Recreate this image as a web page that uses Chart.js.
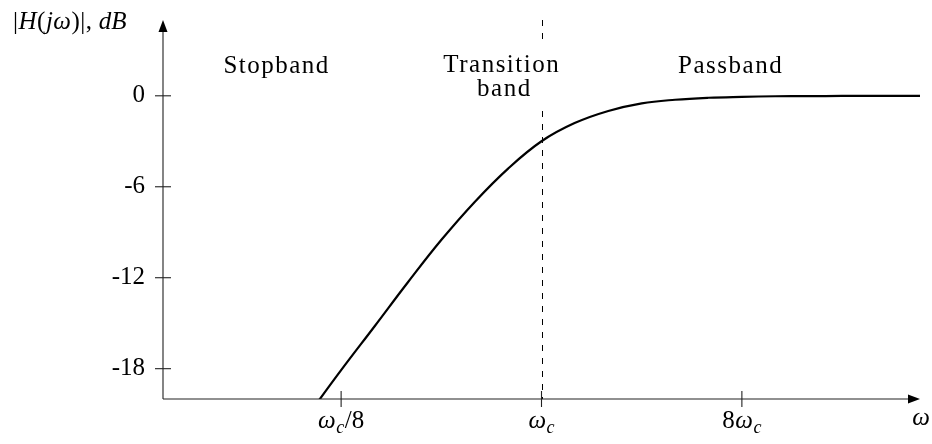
<!DOCTYPE html>
<html>
<head>
<meta charset="utf-8">
<script src="https://cdn.jsdelivr.net/npm/chart.js@4"></script>
<style>
  html, body { margin: 0; padding: 0; background: #fff; }
  #wrap { width: 932px; height: 444px; }
</style>
</head>
<body>
<div id="wrap"><canvas id="chart" width="932" height="444"></canvas></div>
<script>
// Magnitude response of the filter: frequency as w / wc, gain in dB
const freqRatio = [0.0884, 0.125, 0.177, 0.25, 0.354, 0.5, 0.707, 1, 1.41, 2, 2.83, 4, 5.66, 8, 11.3, 16, 22.6, 32, 50.8];
const gainDb = [-21.1, -18.1, -15.2, -12.3, -9.5, -7.0, -4.8, -3.0, -1.8, -1.0, -0.5, -0.26, -0.13, -0.07, -0.03, -0.02, -0.01, 0, 0];

// Cut-off frequency (dashed marker)
const cutoffRatio = 1;

// Tick values and labels
const yTickValues = [0, -6, -12, -18];
const yTickLabels = ["0", "-6", "-12", "-18"];
const xTickValues = [0.125, 1, 8];
const xTickLabels = [
  [{ t: "ω", i: true }, { t: "c", i: true, sub: true }, { t: "/8" }],
  [{ t: "ω", i: true }, { t: "c", i: true, sub: true }],
  [{ t: "8" }, { t: "ω", i: true }, { t: "c", i: true, sub: true }],
];
const yAxisTitle = [
  { t: "|" }, { t: "H", i: true }, { t: "(" }, { t: "j", i: true }, { t: "ω", i: true },
  { t: ")" }, { t: "|" }, { t: ", " }, { t: "dB", i: true },
];
const xAxisTitle = [{ t: "ω", i: true }];
const bandNames = [["Stopband"], ["Transition", "band"], ["Passband"]];

const FONT = '"Liberation Serif", "Times New Roman", serif';
const SIZE = 25;

function partFont(p) {
  return (p.i ? "italic " : "") + (p.sub ? 18 : SIZE) + "px " + FONT;
}

// draws a run of upright / italic / subscript pieces
function drawMath(ctx, parts, x, y, align) {
  const gap = 0.5;
  const widths = parts.map((p) => {
    ctx.font = partFont(p);
    return ctx.measureText(p.t).width;
  });
  const total = widths.reduce((a, b) => a + b, 0) + gap * (parts.length - 1);
  let cx = x;
  if (align === "center") cx = x - total / 2;
  if (align === "right") cx = x - total;
  ctx.textAlign = "left";
  ctx.textBaseline = "alphabetic";
  parts.forEach((p, k) => {
    ctx.font = partFont(p);
    ctx.fillText(p.t, cx, p.sub ? y + 5 : y);
    cx += widths[k] + gap;
  });
}

function drawWord(ctx, text, x, y) {
  ctx.save();
  ctx.font = SIZE + "px " + FONT;
  ctx.letterSpacing = "1.5px";
  ctx.textAlign = "center";
  ctx.textBaseline = "alphabetic";
  ctx.fillText(text, x, y);
  ctx.restore();
}

// Axes with arrows, cross ticks, labels and band names
const axesPlugin = {
  id: "axesPlugin",
  beforeDatasetsDraw(chart) {
    const { ctx, chartArea, scales } = chart;
    const xc = Math.round(scales.x.getPixelForValue(cutoffRatio)) + 0.5;
    ctx.save();
    ctx.strokeStyle = "#000";
    ctx.lineWidth = 1;
    ctx.setLineDash([6, 7]);
    ctx.beginPath();
    ctx.moveTo(xc, chartArea.top);
    ctx.lineTo(xc, chartArea.bottom);
    ctx.stroke();
    ctx.restore();
  },
  afterDraw(chart) {
    const { ctx, chartArea, scales } = chart;
    const x = scales.x;
    const y = scales.y;
    const left = chartArea.left;
    const bottom = chartArea.bottom;
    ctx.save();
    ctx.strokeStyle = "#222";
    ctx.fillStyle = "#000";
    ctx.lineWidth = 1.1;

    // axis lines
    ctx.beginPath();
    ctx.moveTo(left, bottom);
    ctx.lineTo(left, chartArea.top + 8);
    ctx.moveTo(left, bottom);
    ctx.lineTo(chartArea.right - 8, bottom);
    ctx.stroke();

    // arrow heads
    ctx.beginPath();
    ctx.moveTo(left, chartArea.top);
    ctx.lineTo(left - 4.5, chartArea.top + 12);
    ctx.lineTo(left + 4.5, chartArea.top + 12);
    ctx.closePath();
    ctx.fill();
    ctx.beginPath();
    ctx.moveTo(chartArea.right, bottom);
    ctx.lineTo(chartArea.right - 12, bottom - 4.5);
    ctx.lineTo(chartArea.right - 12, bottom + 4.5);
    ctx.closePath();
    ctx.fill();

    // y ticks
    yTickValues.forEach((v, k) => {
      const py = y.getPixelForValue(v);
      ctx.beginPath();
      ctx.moveTo(left - 8, py);
      ctx.lineTo(left + 8, py);
      ctx.stroke();
      ctx.font = SIZE + "px " + FONT;
      ctx.textAlign = "right";
      ctx.textBaseline = "middle";
      ctx.fillText(yTickLabels[k], left - 18, py);
    });

    // x ticks
    xTickValues.forEach((v, k) => {
      const px = x.getPixelForValue(v);
      ctx.beginPath();
      ctx.moveTo(px, bottom - 8);
      ctx.lineTo(px, bottom + 8);
      ctx.stroke();
      drawMath(ctx, xTickLabels[k], px, bottom + 29, "center");
    });

    // axis titles
    drawMath(ctx, yAxisTitle, 13, 29, "left");
    drawMath(ctx, xAxisTitle, chartArea.right + 1, bottom + 26, "center");

    // band names; the middle one sits on a white box over the dashed line
    const midX = x.getPixelForValue(0.662);
    ctx.fillStyle = "#fff";
    ctx.fillRect(midX - 62, 46, 124, 59);
    ctx.fillStyle = "#000";
    drawWord(ctx, bandNames[0][0], x.getPixelForValue(0.064), 73);
    drawWord(ctx, bandNames[1][0], midX, 72);
    drawWord(ctx, bandNames[1][1], x.getPixelForValue(0.68), 96);
    drawWord(ctx, bandNames[2][0], x.getPixelForValue(7.12), 73);
    ctx.restore();
  },
};

const ctx = document.getElementById("chart").getContext("2d");
new Chart(ctx, {
  type: "line",
  data: {
    datasets: [
      {
        data: freqRatio.map((f, k) => ({ x: f, y: gainDb[k] })),
        borderColor: "#000",
        borderWidth: 2.2,
        pointRadius: 0,
        fill: false,
        tension: 0.4,
      },
    ],
  },
  options: {
    responsive: false,
    animation: false,
    devicePixelRatio: 1,
    layout: { padding: { left: 163, right: 12, top: 20, bottom: 45 } },
    plugins: { legend: { display: false }, tooltip: { enabled: false } },
    scales: {
      x: { type: "logarithmic", min: 1 / 50.8, max: 50.8, display: false },
      y: { type: "linear", min: -20, max: 5, display: false },
    },
  },
  plugins: [axesPlugin],
});
</script>
</body>
</html>
